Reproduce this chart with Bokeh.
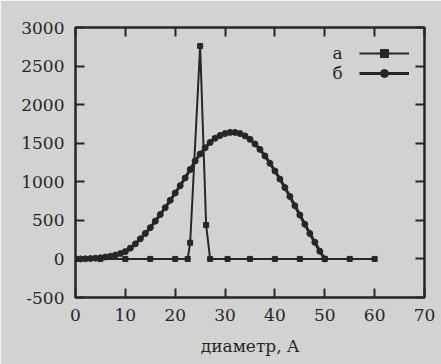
from bokeh.plotting import figure
from bokeh.models import (FixedTicker, LinearAxis, Legend, LegendItem, Label)
from bokeh.embed import file_html
from bokeh.resources import INLINE

# ---- data ----
a_x = [0, 5, 10, 15, 20, 22.5, 23, 25, 26.2, 27, 30.5, 35, 40, 45, 50, 55, 60]
a_y = [0, 0, 0, 0, 0, 0, 210, 2760, 440, 0, 0, 0, 0, 0, 0, 0, 0]

b_x = list(range(0, 51))
b_y = [0, 0, 2, 5, 10, 15, 25, 35, 50, 70, 95, 140, 195, 260, 330, 405, 490,
       575, 665, 760, 855, 950, 1050, 1160, 1270, 1360, 1440, 1510, 1565, 1600,
       1625, 1640, 1640, 1625, 1595, 1550, 1490, 1420, 1335, 1240, 1140, 1035,
       925, 810, 690, 570, 450, 330, 215, 100, 0]

x_ticks = [0, 10, 20, 30, 40, 50, 60, 70]
y_ticks = [-500, 0, 500, 1000, 1500, 2000, 2500, 3000]
y_tick_labels = ["-500", "0", "500", "1000", "1500", "2000", "2500", "3000"]
x_title = "диаметр, A"
names = ["а", "б"]

BG = "#d2d2d2"
INK = "#262626"
FONT = "DejaVu Serif"

p = figure(width=441, height=364, x_range=(0, 70), y_range=(-500, 3000),
           output_backend="svg", toolbar_location=None,
           min_border_left=75, min_border_right=17, min_border_top=27,
           min_border_bottom=67)
p.background_fill_color = BG
p.border_fill_color = BG
p.outline_line_color = INK
p.outline_line_width = 2.5
p.grid.visible = False

def style_axis(ax, labels=True):
    ax.axis_line_color = None
    ax.major_tick_in = 9
    ax.major_tick_out = 0
    ax.major_tick_line_color = INK
    ax.major_tick_line_width = 2
    ax.minor_tick_line_color = None
    if labels:
        ax.major_label_text_font = FONT
        ax.major_label_text_font_size = "17px"
        ax.major_label_text_color = INK
        ax.major_label_standoff = 11
    else:
        ax.major_label_text_font_size = "1px"
        ax.major_label_text_color = None
        ax.major_label_standoff = 0

p.xaxis.ticker = FixedTicker(ticks=x_ticks)
p.yaxis.ticker = FixedTicker(ticks=y_ticks)
p.yaxis.major_label_overrides = dict(zip(y_ticks, y_tick_labels))
style_axis(p.xaxis[0])
style_axis(p.yaxis[0])
p.xaxis.axis_label = x_title
p.xaxis.axis_label_text_font = FONT
p.xaxis.axis_label_text_font_size = "17px"
p.xaxis.axis_label_text_font_style = "normal"
p.xaxis.axis_label_text_color = INK
p.xaxis.axis_label_standoff = 12

top = LinearAxis(ticker=FixedTicker(ticks=x_ticks))
style_axis(top, labels=False)
p.add_layout(top, "above")
right = LinearAxis(ticker=FixedTicker(ticks=y_ticks))
style_axis(right, labels=False)
p.add_layout(right, "right")

# series
la = p.line(a_x, a_y, line_color=INK, line_width=2)
ma = p.scatter(a_x, a_y, marker="square", size=5, fill_color=INK, line_color=INK)
lb = p.line(b_x, b_y, line_color=INK, line_width=3)
mb = p.scatter(b_x, b_y, marker="circle", size=6, fill_color=INK, line_color=INK)

legend = Legend(items=[LegendItem(label=" ", renderers=[la, ma]),
                       LegendItem(label=" ", renderers=[lb, mb])],
                location=(284, 214), glyph_width=50, glyph_height=20,
                label_width=0, label_standoff=0, padding=0, spacing=0,
                margin=0, background_fill_alpha=0, border_line_color=None,
                label_text_font_size="1px")
p.add_layout(legend)

for i, nm in enumerate(names):
    p.add_layout(Label(x=262, y=245 - 20 * i, x_units="screen", y_units="screen",
                       text=nm, text_font=FONT, text_font_size="17px",
                       text_color=INK, text_align="center",
                       text_baseline="middle"))

html = file_html(p, INLINE)
html = html.replace("<body>", '<body style="background:%s">' % BG, 1)
open("out.html", "w").write(html)
